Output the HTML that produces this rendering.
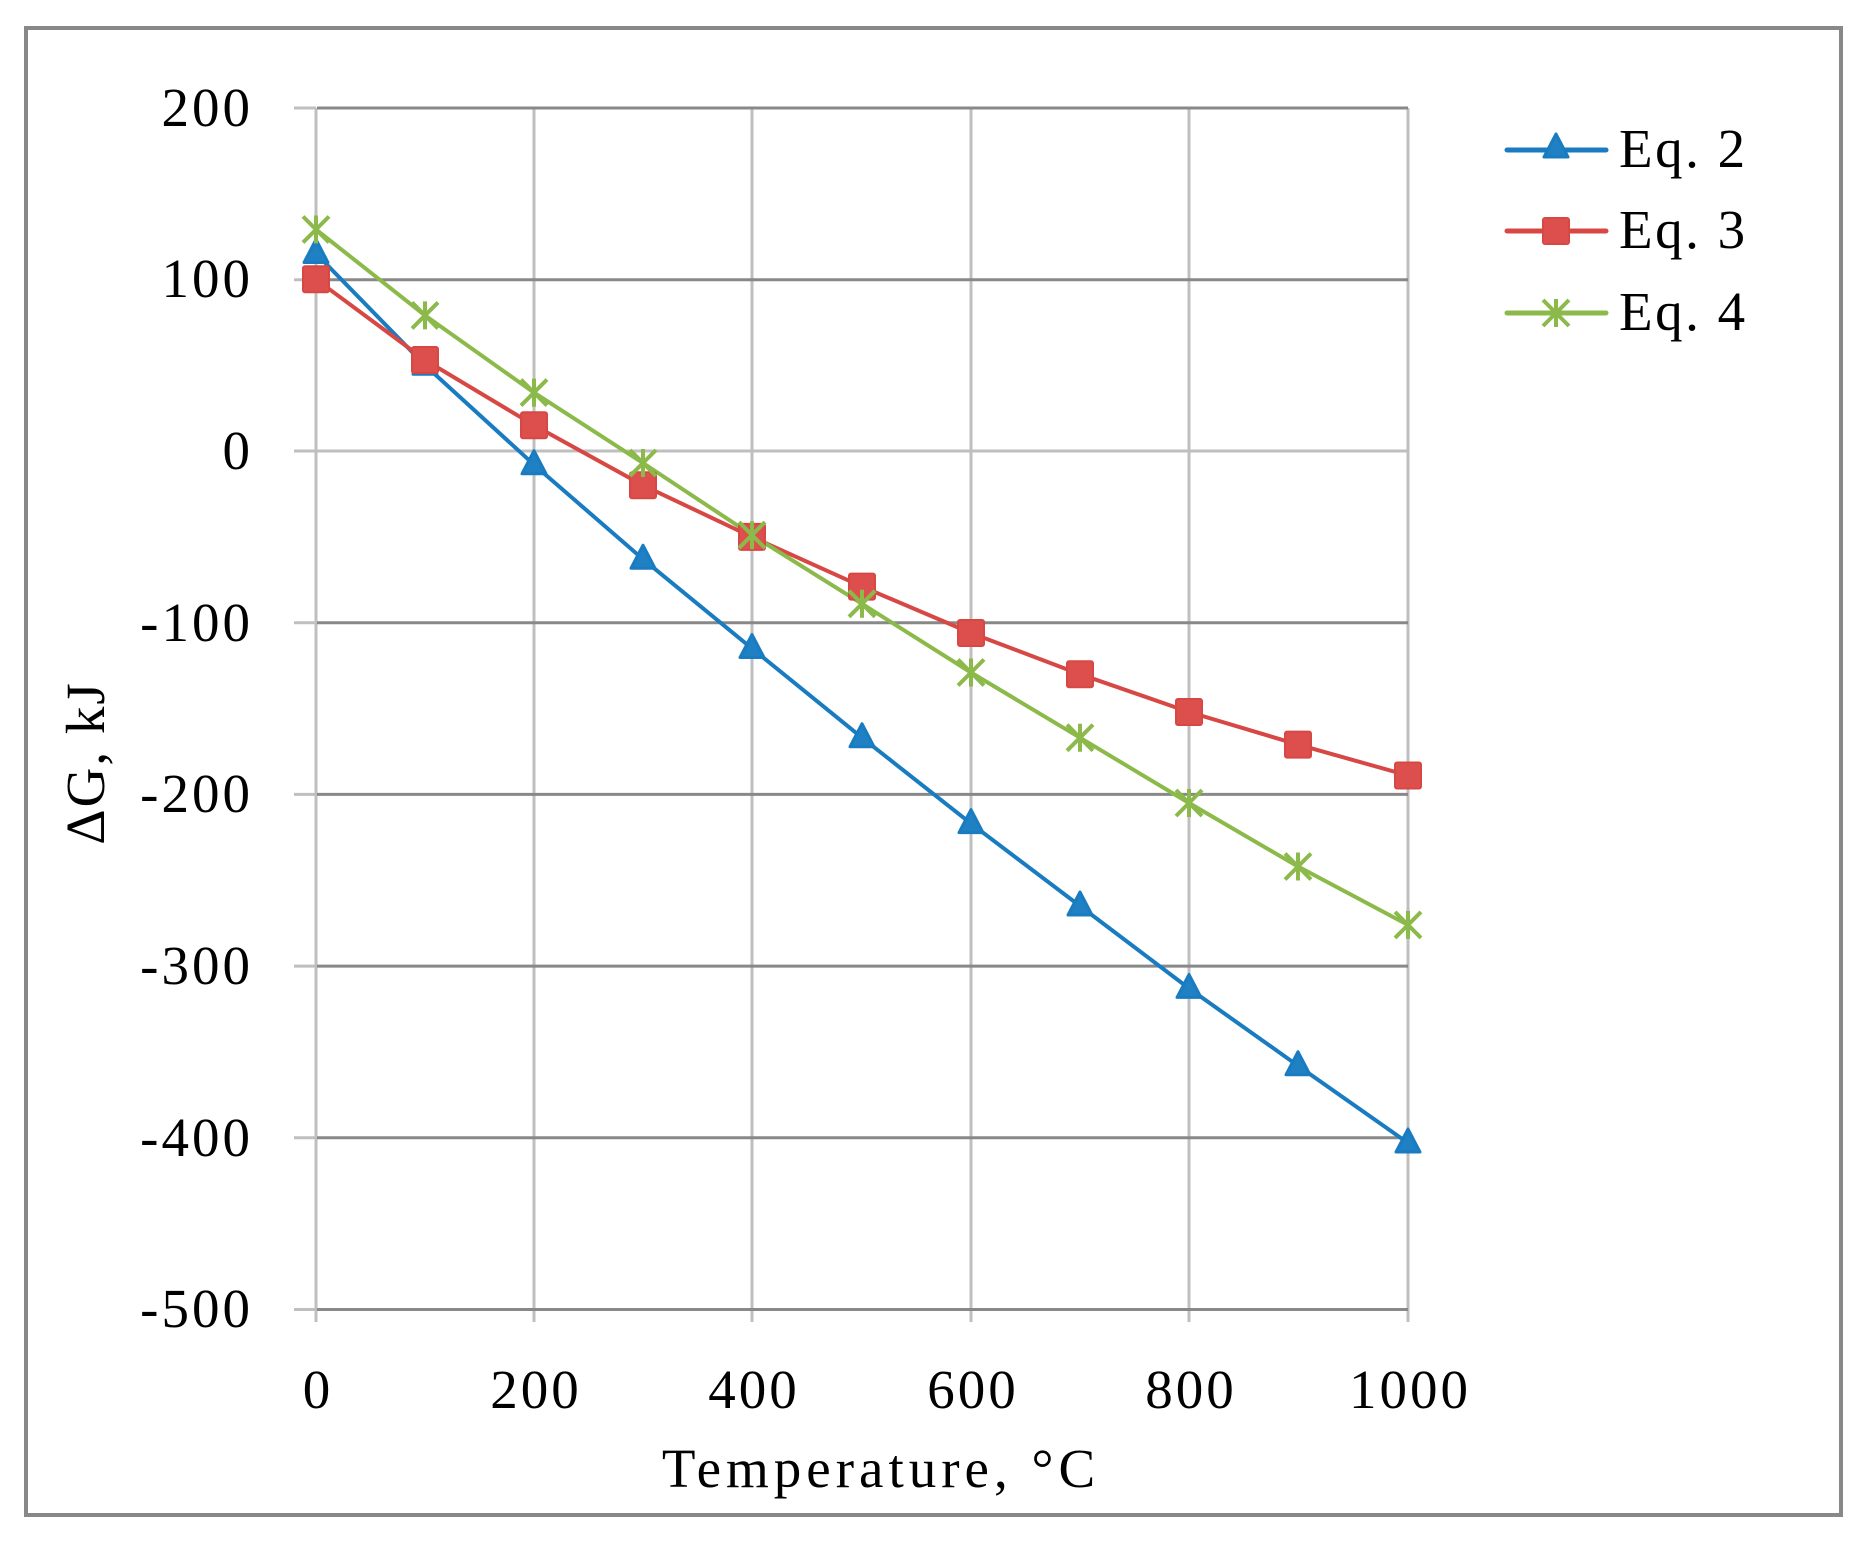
<!DOCTYPE html>
<html><head><meta charset="utf-8"><style>
html,body{margin:0;padding:0;background:#fff;}
svg{display:block;}
text{font-family:"Liberation Serif",serif;fill:#000;}
</style></head><body>
<svg width="1869" height="1542" viewBox="0 0 1869 1542" xmlns="http://www.w3.org/2000/svg">
<defs>
<symbol id="tri" overflow="visible"><polygon points="0,-14 12,9 -12,9" fill="#1f80c4" stroke="#1a7cc0" stroke-width="3" stroke-linejoin="round"/></symbol>
<symbol id="sq" overflow="visible"><rect x="-13" y="-13" width="26" height="26" rx="2" fill="#dd4f4c" stroke="#d74845" stroke-width="2"/></symbol>
<symbol id="st" overflow="visible"><path d="M-13,-13L13,13M-13,13L13,-13M0,-14L0,14" stroke="#8cba4a" stroke-width="4" fill="none"/></symbol>
</defs>
<rect x="26" y="28" width="1815" height="1487" fill="#fff" stroke="#888" stroke-width="4"/>
<g stroke="#bfbfbf" stroke-width="3">
<line x1="316" y1="108" x2="316" y2="1322"/>
<line x1="534" y1="108" x2="534" y2="1322"/>
<line x1="752" y1="108" x2="752" y2="1322"/>
<line x1="971" y1="108" x2="971" y2="1322"/>
<line x1="1189" y1="108" x2="1189" y2="1322"/>
<line x1="1408" y1="108" x2="1408" y2="1322"/>
<line x1="294" y1="108" x2="316" y2="108"/>
<line x1="294" y1="279.7" x2="316" y2="279.7"/>
<line x1="294" y1="451" x2="1408" y2="451"/>
<line x1="294" y1="622.7" x2="316" y2="622.7"/>
<line x1="294" y1="794.4" x2="316" y2="794.4"/>
<line x1="294" y1="966.1" x2="316" y2="966.1"/>
<line x1="294" y1="1137.8" x2="316" y2="1137.8"/>
<line x1="294" y1="1309.5" x2="316" y2="1309.5"/>
</g>
<g stroke="#888" stroke-width="3">
<line x1="317" y1="108" x2="1408" y2="108"/>
<line x1="317" y1="279.7" x2="1408" y2="279.7"/>
<line x1="317" y1="622.7" x2="1408" y2="622.7"/>
<line x1="317" y1="794.4" x2="1408" y2="794.4"/>
<line x1="317" y1="966.1" x2="1408" y2="966.1"/>
<line x1="317" y1="1137.8" x2="1408" y2="1137.8"/>
<line x1="317" y1="1309.5" x2="1408" y2="1309.5"/>
</g>
<g font-size="55" text-anchor="end" letter-spacing="3">
<text x="253" y="126">200</text>
<text x="253" y="297">100</text>
<text x="253" y="469">0</text>
<text x="253" y="641">-100</text>
<text x="253" y="812">-200</text>
<text x="253" y="984">-300</text>
<text x="253" y="1156">-400</text>
<text x="253" y="1327">-500</text>
</g>
<g font-size="55" text-anchor="middle" letter-spacing="3">
<text x="318" y="1408">0</text>
<text x="536" y="1408">200</text>
<text x="754" y="1408">400</text>
<text x="973" y="1408">600</text>
<text x="1191" y="1408">800</text>
<text x="1410" y="1408">1000</text>
</g>
<text x="881" y="1487" font-size="55" text-anchor="middle" letter-spacing="5">Temperature, °C</text>
<text transform="translate(104,763) rotate(-90)" font-size="55" text-anchor="middle" letter-spacing="2">ΔG, kJ</text>
<polyline fill="none" stroke="#1a7cc0" stroke-width="4" stroke-linejoin="round" points="316,253.5 425,365.2 534,464.7 643,559.2 752,648.5 862,737.7 971,823.6 1080,906 1189,988.4 1298,1065.7 1408,1143"/>
<polyline fill="none" stroke="#d74845" stroke-width="4" stroke-linejoin="round" points="316,279.3 425,360 534,425.2 643,485.3 752,536.9 862,586.6 971,633 1080,674.2 1189,712 1298,744.6 1408,775.5"/>
<polyline fill="none" stroke="#8cba4a" stroke-width="4" stroke-linejoin="round" points="316,229.5 425,315.4 534,392.6 643,463 752,535.1 862,603.8 971,672.5 1080,737.7 1189,803 1298,866.5 1408,924.9"/>
<g>
<use href="#tri" x="316" y="253.5"/><use href="#tri" x="425" y="365.2"/><use href="#tri" x="534" y="464.7"/><use href="#tri" x="643" y="559.2"/><use href="#tri" x="752" y="648.5"/><use href="#tri" x="862" y="737.7"/><use href="#tri" x="971" y="823.6"/><use href="#tri" x="1080" y="906"/><use href="#tri" x="1189" y="988.4"/><use href="#tri" x="1298" y="1065.7"/><use href="#tri" x="1408" y="1143"/>
<use href="#sq" x="316" y="279.3"/><use href="#sq" x="425" y="360"/><use href="#sq" x="534" y="425.2"/><use href="#sq" x="643" y="485.3"/><use href="#sq" x="752" y="536.9"/><use href="#sq" x="862" y="586.6"/><use href="#sq" x="971" y="633"/><use href="#sq" x="1080" y="674.2"/><use href="#sq" x="1189" y="712"/><use href="#sq" x="1298" y="744.6"/><use href="#sq" x="1408" y="775.5"/>
<use href="#st" x="316" y="229.5"/><use href="#st" x="425" y="315.4"/><use href="#st" x="534" y="392.6"/><use href="#st" x="643" y="463"/><use href="#st" x="752" y="535.1"/><use href="#st" x="862" y="603.8"/><use href="#st" x="971" y="672.5"/><use href="#st" x="1080" y="737.7"/><use href="#st" x="1189" y="803"/><use href="#st" x="1298" y="866.5"/><use href="#st" x="1408" y="924.9"/>
</g>
<line x1="1507" y1="150" x2="1606" y2="150" stroke="#1a7cc0" stroke-width="5" stroke-linecap="round"/>
<use href="#tri" x="1556" y="148"/>
<line x1="1507" y1="231" x2="1606" y2="231" stroke="#d74845" stroke-width="5" stroke-linecap="round"/>
<use href="#sq" x="1556" y="231"/>
<line x1="1507" y1="313" x2="1606" y2="313" stroke="#8cba4a" stroke-width="5" stroke-linecap="round"/>
<use href="#st" x="1556" y="313"/>
<g font-size="55" letter-spacing="2.5">
<text x="1619" y="167">Eq. 2</text>
<text x="1619" y="248">Eq. 3</text>
<text x="1619" y="330">Eq. 4</text>
</g>
</svg>
</body></html>
